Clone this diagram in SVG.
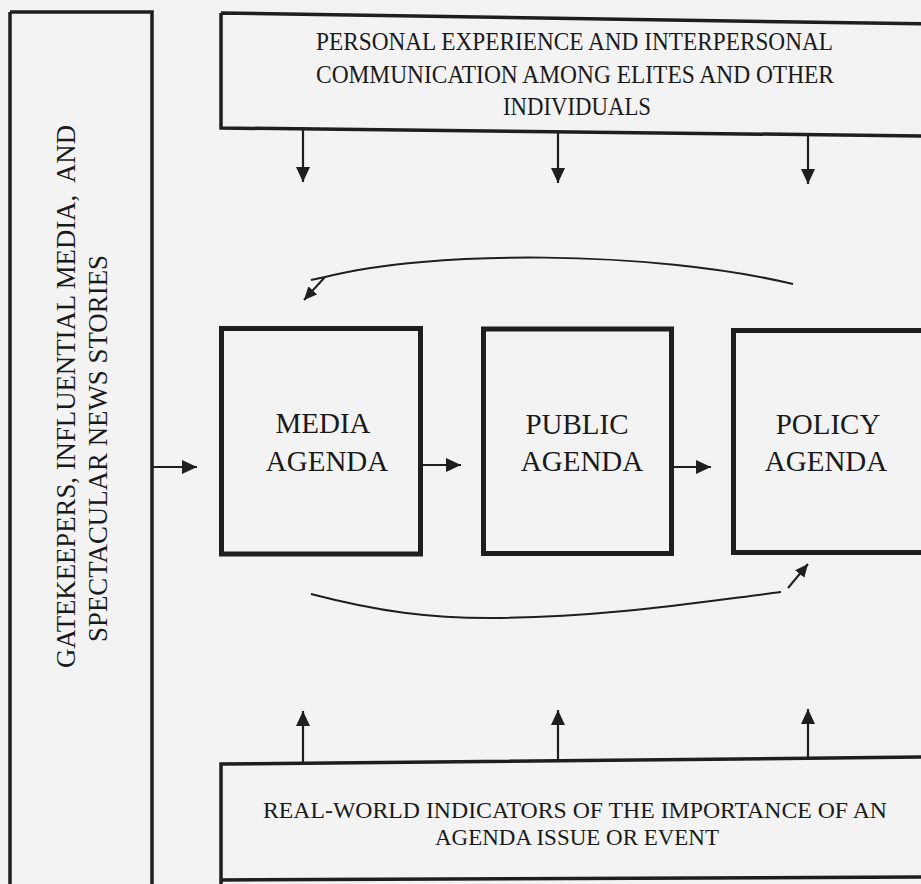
<svg xmlns="http://www.w3.org/2000/svg" width="921" height="884" viewBox="0 0 921 884">
<style>
.bg{fill:#f3f3f3}
.frame{fill:none;stroke:#1e1e1e;stroke-width:3.5}
.agenda{fill:none;stroke:#1e1e1e;stroke-width:5}
.t{font-family:"Liberation Serif","Times New Roman",serif;fill:#1a1a1a}
.side{font-size:26.5px}
.top{font-size:25px;text-anchor:middle}
.bot{font-size:24px;text-anchor:middle}
.lab{font-size:29px;text-anchor:middle}
.line{fill:none;stroke:#1e1e1e;stroke-width:2.2}
.curve{fill:none;stroke:#1e1e1e;stroke-width:2}
</style>
<defs>
<marker id="ah" viewBox="0 0 15 14" refX="15" refY="7" markerWidth="15" markerHeight="14" markerUnits="userSpaceOnUse" orient="auto">
<path d="M0,0 L15,7 L0,14 z" fill="#1e1e1e"/>
</marker>
<marker id="ahs" viewBox="0 0 13 12" refX="13" refY="6" markerWidth="13" markerHeight="12" markerUnits="userSpaceOnUse" orient="auto">
<path d="M0,0 L13,6 L0,12 z" fill="#1e1e1e"/>
</marker>
</defs>
<rect class="bg" x="0" y="0" width="921" height="884"/>

<g id="gatekeepers">
<path class="frame" d="M10,12 L152,12 L152,890 M10,12 L10,890"/>
<text class="t side" transform="translate(75,668) rotate(-90)" textLength="543" lengthAdjust="spacingAndGlyphs">GATEKEEPERS, INFLUENTIAL MEDIA,&#160; AND</text>
<text class="t side" transform="translate(107,642) rotate(-90)" textLength="387" lengthAdjust="spacingAndGlyphs">SPECTACULAR NEWS STORIES</text>
</g>

<g id="personal">
<path class="frame" d="M221,13 L930,24 M221,13 L221,128 L930,136"/>
<text class="t top" x="574.5" y="50" textLength="517" lengthAdjust="spacingAndGlyphs">PERSONAL EXPERIENCE AND INTERPERSONAL</text>
<text class="t top" x="575" y="83" textLength="518" lengthAdjust="spacingAndGlyphs">COMMUNICATION AMONG ELITES AND OTHER</text>
<text class="t top" x="577" y="115" textLength="148" lengthAdjust="spacingAndGlyphs">INDIVIDUALS</text>
</g>

<g id="media">
<rect class="agenda" x="221.5" y="328.5" width="199" height="225.5"/>
<text class="t lab" x="323" y="433">MEDIA</text>
<text class="t lab" x="327" y="471">AGENDA</text>
</g>

<g id="public">
<rect class="agenda" x="483.5" y="329" width="188" height="224.5"/>
<text class="t lab" x="577" y="434">PUBLIC</text>
<text class="t lab" x="582" y="471">AGENDA</text>
</g>

<g id="policy">
<rect class="agenda" x="733.5" y="330.5" width="210" height="222"/>
<text class="t lab" x="828" y="434">POLICY</text>
<text class="t lab" x="826" y="471">AGENDA</text>
</g>

<g id="realworld">
<path class="frame" d="M930,757 L221,764 L221,890 M221,880 L930,877"/>
<text class="t bot" x="575" y="818" textLength="624" lengthAdjust="spacingAndGlyphs">REAL-WORLD INDICATORS OF THE IMPORTANCE OF AN</text>
<text class="t bot" x="577" y="845" textLength="284" lengthAdjust="spacingAndGlyphs">AGENDA ISSUE OR EVENT</text>
</g>

<g id="connectors">
<line class="line" x1="303" y1="129" x2="303" y2="182" marker-end="url(#ah)"/>
<line class="line" x1="558" y1="131" x2="558" y2="183" marker-end="url(#ah)"/>
<line class="line" x1="808" y1="135" x2="808" y2="184" marker-end="url(#ah)"/>
<line class="line" x1="303" y1="763" x2="303" y2="711" marker-end="url(#ah)"/>
<line class="line" x1="558" y1="760" x2="558" y2="710" marker-end="url(#ah)"/>
<line class="line" x1="808" y1="758" x2="808" y2="709" marker-end="url(#ah)"/>
<line class="line" x1="152" y1="467" x2="197" y2="467" marker-end="url(#ah)"/>
<line class="line" x1="423" y1="465" x2="461" y2="465" marker-end="url(#ah)"/>
<line class="line" x1="673" y1="467" x2="711" y2="467" marker-end="url(#ah)"/>
<path class="curve" d="M793,284 C650,250 430,250 325,277 L311,280"/>
<path class="curve" d="M325,277 L304,300" marker-end="url(#ahs)"/>
<path class="curve" d="M311,594 C380,612 430,618 490,618 C600,618 700,602 781,592"/>
<path class="curve" d="M788,588 L808,564" marker-end="url(#ahs)"/>
</g>
</svg>
